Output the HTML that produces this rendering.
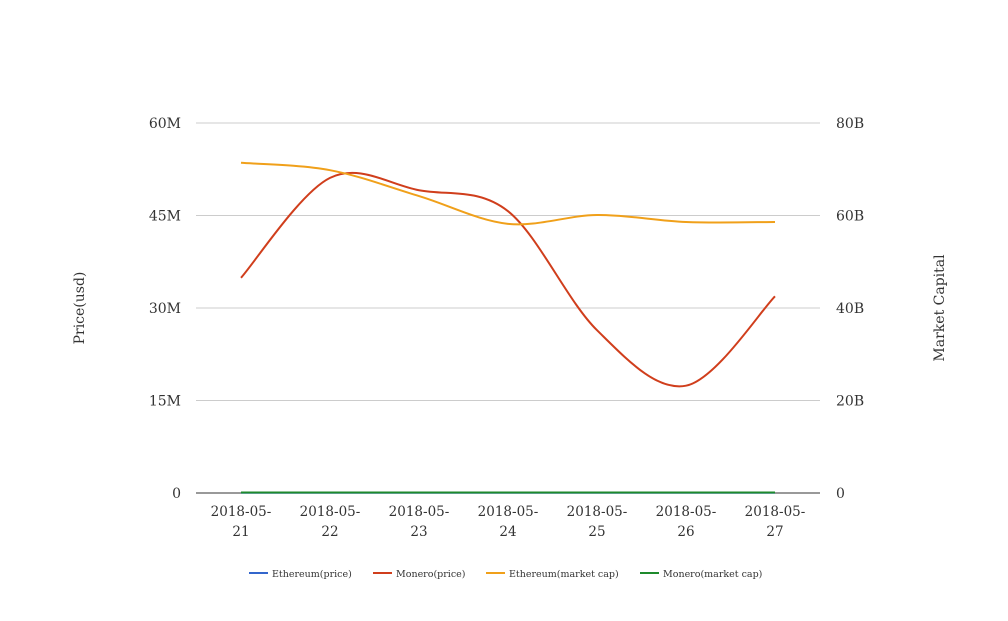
<!DOCTYPE html>
<html><head><meta charset="utf-8"><style>
body{margin:0;background:#fff;}
svg text{font-family:"DejaVu Serif","Liberation Serif",serif;fill:#333;}
</style></head><body>
<svg id="chart" width="1008" height="616" xmlns="http://www.w3.org/2000/svg"></svg>
<script>
const categories=["2018-05-21","2018-05-22","2018-05-23","2018-05-24","2018-05-25","2018-05-26","2018-05-27"];
const ethPrice=[0.05,0.05,0.05,0.05,0.05,0.05,0.05];
const moneroPrice=[34.9,51.1,49.1,45.7,26.4,17.4,31.9];
const ethCap=[71.4,69.8,64.2,58.2,60.1,58.6,58.6];
const moneroCap=[0.1,0.1,0.1,0.1,0.1,0.1,0.1];
const leftTicks=[0,15,30,45,60];
const leftLabels=["0","15M","30M","45M","60M"];
const rightTicks=[0,20,40,60,80];
const rightLabels=["0","20B","40B","60B","80B"];
const NS="http://www.w3.org/2000/svg";
const svg=document.getElementById('chart');
const L=196,R=820,T=123,B=493;
const x=i=>241+i*(775-241)/(categories.length-1);
const yL=v=>B-(v/60)*(B-T);
const yR=v=>B-(v/80)*(B-T);
function mk(tag,attrs,parent){const e=document.createElementNS(NS,tag);for(const k in attrs)e.setAttribute(k,attrs[k]);(parent||svg).appendChild(e);return e;}
leftTicks.forEach((t,i)=>{
  const g=mk('line',{x1:L,x2:R,y1:yL(t),y2:yL(t),stroke:i==0?'#333':'#ccc','stroke-width':1});
  
  
  const tx=mk('text',{x:181,y:yL(t)+5,'text-anchor':'end','font-size':14});
  tx.textContent=leftLabels[i];
  
  
});
rightTicks.forEach((t,i)=>{
  const tx=mk('text',{x:836,y:yR(t)+5,'font-size':14});
  tx.textContent=rightLabels[i];
  
  
});
categories.forEach((c,i)=>{
  const p=c.split('-');
  const t1=mk('text',{x:x(i),y:516,'text-anchor':'middle','font-size':13.5});
  t1.textContent=p[0]+'-'+p[1]+'-';
  
  
  const t2=mk('text',{x:x(i),y:536,'text-anchor':'middle','font-size':13.5});
  t2.textContent=p[2];
  
  
});
let yt=mk('text',{x:0,y:0,'text-anchor':'middle','font-size':14,transform:'translate(84,308) rotate(-90)'});
yt.textContent='Price(usd)';


let yt2=mk('text',{x:0,y:0,'text-anchor':'middle','font-size':14,transform:'translate(944,308) rotate(-90)'});
yt2.textContent='Market Capital';


function path(vals,yf){
  const pts=vals.map((v,i)=>[x(i),yf(v)]);
  let d='M'+pts[0][0]+','+pts[0][1];
  for(let i=0;i<pts.length-1;i++){
    const p0=pts[Math.max(0,i-1)],p1=pts[i],p2=pts[i+1],p3=pts[Math.min(pts.length-1,i+2)];
    const k=1/6;
    d+=' C'+(p1[0]+(p2[0]-p0[0])*k)+','+(p1[1]+(p2[1]-p0[1])*k)+' '+(p2[0]-(p3[0]-p1[0])*k)+','+(p2[1]-(p3[1]-p1[1])*k)+' '+p2[0]+','+p2[1];
  }
  return d;
}
const series=[
 {name:'Ethereum(price)',vals:ethPrice,y:yL,c:'#3366cc'},
 {name:'Monero(price)',vals:moneroPrice,y:yL,c:'#d03e1c'},
 {name:'Ethereum(market cap)',vals:ethCap,y:yR,c:'#f0a01a'},
 {name:'Monero(market cap)',vals:moneroCap,y:yR,c:'#1e8a2c'}];
series.forEach(s=>{
  const p=mk('path',{d:path(s.vals,s.y),fill:'none',stroke:s.c,'stroke-width':2});
  
  
});
const lx=[249,373,486,640];
series.forEach((s,i)=>{
  const g=mk('g',{});
  
  
  mk('line',{x1:lx[i],x2:lx[i]+19,y1:573,y2:573,stroke:s.c,'stroke-width':2},g);
  const t=mk('text',{x:lx[i]+23,y:577,'font-size':9.5},g);
  t.textContent=s.name;
});
</script>
</body></html>
